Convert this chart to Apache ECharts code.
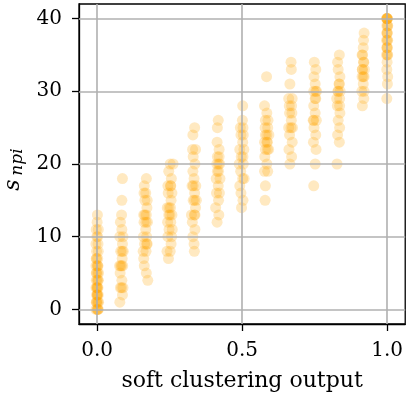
<!DOCTYPE html>
<html>
<head>
<meta charset="utf-8">
<script src="https://cdn.jsdelivr.net/npm/echarts@6/dist/echarts.min.js"></script>
<style>html,body{margin:0;padding:0;background:#fff}#c{width:406px;height:399px}</style>
</head>
<body>
<div id="c"></div>
<script>
// column positions (soft clustering output)
var colX = [0, 0.0833, 0.1667, 0.25, 0.3333, 0.4167, 0.5, 0.5833, 0.6667, 0.75, 0.8333, 0.9167, 1.0];
// s_npi values per column
var col0 = [0,0,0,0,1,1,1,1,2,2,2,3,3,3,4,4,4,5,5,5,6,6,6,7,7,8,8,9,9,10,10,11,11,12,13, 0,1,2,3,4,5,6,7,2,3];
var col1 = [1,2,3,3,4,5,6,6,6,7,8,8,9,10,10,11,12,13,15,18, 6,3,8];
var col2 = [4,5,6,7,8,8,9,9,10,10,11,12,12,13,13,14,15,15,16,17,18, 12,13,16,9];
var col3 = [7,8,8,9,10,10,11,11,12,12,13,13,14,14,15,16,16,17,17,18,19,20,20, 13,14,17];
var col4 = [8,9,10,11,12,13,13,14,15,15,16,17,17,18,19,20,21,22,22,24,25, 15,17,13];
var col5 = [12,13,14,15,16,16,17,18,18,19,20,20,21,22,23,25,26, 19,20,21];
var col6 = [14,15,16,17,18,18,19,20,20,21,22,22,23,24,25,25,26,28, 21,24];
var col7 = [15,17,19,19,20,21,22,22,23,23,24,24,25,25,26,26,27,28,32, 23,24,22];
var col8 = [20,21,22,23,24,25,25,26,27,28,29,29,31,33,34, 27,25,28];
var col9 = [17,20,22,23,24,25,26,26,27,28,29,30,30,31,32,33,34, 29,26,30];
var col10 = [20,23,24,25,26,27,28,29,29,30,30,31,32,33,34,35, 28,30,31];
var col11 = [28,29,30,30,31,32,32,33,33,34,35,36,37,38, 32,33,34,35];
var col12 = [29,31,32,33,34,35,35,36,36,37,37,38,38,39,39,40,40,40,40, 37,38,39,40,40,36,35];
// horizontal jitter
var dx0 = [0,.004,-.004,.002,.003,-.003,0,.005,-.002,.004,0,.003,-.004,.001,.004,-.003,0,.002,-.002,.005,-.004,.003,0,.002,-.003,.004,-.002,.003,-.004,.002,-.001,.004,-.003,0,.001, .002,-.002,.001,-.001,.003,-.003,.002,-.002,.001,0];
var dx1 = [-.005,.004,-.003,.006,.002,-.004,.005,-.006,.001,.003,-.002,.007,.004,-.005,.006,.002,-.003,.001,.002,.004, -.002,.001,.003];
var dx2 = [.008,.003,-.004,-.006,.002,-.008,.006,-.003,.004,-.007,.001,-.005,.007,.003,-.006,.005,-.002,.006,.001,-.004,.003, .002,-.002,-.005,.004];
var dx3 = [-.004,.002,-.009,.005,-.006,.007,-.002,.009,-.007,.004,-.003,.008,-.008,.003,.005,-.005,.008,-.006,.004,.006,-.003,.012,.002, .001,-.002,.003];
var dx4 = [.002,.001,-.003,.004,-.005,.002,-.008,.006,-.002,.009,.003,-.006,.007,.001,-.003,.004,-.002,-.004,.006,-.003,.003, .003,-.002,.004];
var dx5 = [-.003,.003,-.008,.002,-.005,.005,.001,-.006,.007,.002,-.004,.006,-.002,.004,-.003,-.002,.001, -.002,.002,.004];
var dx6 = [-.002,.003,-.004,-.008,.002,.007,-.005,.004,-.01,-.003,.006,-.008,.002,-.004,.003,-.006,.001,.002, .003,.004];
var dx7 = [-.004,-.003,-.006,.005,.002,-.005,.008,-.003,.004,-.006,.002,.009,-.004,.005,.006,-.003,.002,-.006,.001, .002,-.003,.004];
var dx8 = [-.002,.004,-.005,.006,-.003,.007,-.006,.003,.005,-.004,-.006,.006,-.002,.003,.002, -.003,.002,.004];
var dx9 = [-.003,.002,.005,-.004,.004,-.002,.006,-.005,.002,-.003,.004,.007,-.003,.002,-.002,.004,-.001, .002,-.003,.004];
var dx10 = [-.006,.002,-.004,.003,-.002,.004,-.005,.003,-.007,.005,-.003,.002,.004,-.002,-.004,.002, .003,-.002,.001];
var dx11 = [-.002,.003,-.004,.004,.001,-.003,.004,-.002,.005,.002,-.003,.001,.002,.004, .001,-.002,.003,-.001];
var dx12 = [-.001,.001,.002,-.001,0,.002,-.002,.001,-.001,.002,-.002,0,.001,-.001,.002,0,.001,-.001,0, .001,-.001,.002,-.002,.001,0,.001];
var xTicks = [0, 0.5, 1];
var yTicks = [0, 10, 20, 30, 40];

var cols = [col0,col1,col2,col3,col4,col5,col6,col7,col8,col9,col10,col11,col12];
var dxs = [dx0,dx1,dx2,dx3,dx4,dx5,dx6,dx7,dx8,dx9,dx10,dx11,dx12];
var pts = [];
cols.forEach(function (ys, k) {
  ys.forEach(function (y, i) { pts.push([colX[k] + (dxs[k][i] || 0), y]); });
});

var gridLines = xTicks.map(function (v) { return {xAxis: v}; })
  .concat(yTicks.map(function (v) { return {yAxis: v}; }));

var font = 'DejaVu Serif';
var chart = echarts.init(document.getElementById('c'), null, {renderer: 'canvas'});
chart.setOption({
  animation: false,
  grid: {left: 79, top: 4, width: 328.5, height: 320, show: true, borderColor: '#000', borderWidth: 1.3, backgroundColor: 'transparent'},
  xAxis: {
    type: 'value', min: -0.0625, max: 1.0625,
    axisLine: {show: true, onZero: false, lineStyle: {color: '#000', width: 1.3}},
    axisTick: {show: true, length: 7, customValues: xTicks, lineStyle: {color: '#000', width: 1.3}},
    axisLabel: {customValues: xTicks, margin: 17, color: '#000', fontFamily: font, fontSize: 20,
      formatter: function (v) { return Number(v).toFixed(1); }},
    splitLine: {show: false},
    name: 'soft clustering output', nameLocation: 'middle', nameGap: 46,
    nameTextStyle: {color: '#000', fontFamily: font, fontSize: 22}
  },
  yAxis: {
    type: 'value', min: -2, max: 42,
    axisLine: {show: true, onZero: false, lineStyle: {color: '#000', width: 1.3}},
    axisTick: {show: true, length: 7, customValues: yTicks, lineStyle: {color: '#000', width: 1.3}},
    axisLabel: {customValues: yTicks, margin: 17, color: '#000', fontFamily: font, fontSize: 20},
    splitLine: {show: false}
  },
  graphic: [
    {type: 'text', x: 13, y: 185, rotation: Math.PI / 2,
      style: {text: 's', font: 'italic 22px "DejaVu Serif"', fill: '#000', align: 'center', verticalAlign: 'middle'}},
    {type: 'text', x: 18, y: 162, rotation: Math.PI / 2,
      style: {text: 'npi', font: 'italic 17px "DejaVu Serif"', fill: '#000', align: 'center', verticalAlign: 'middle'}}
  ],
  series: [
    {type: 'scatter', data: pts, symbolSize: 11, z: 2,
      itemStyle: {color: 'rgba(255,165,0,0.3)', borderWidth: 0}},
    {type: 'scatter', data: [], z: 3, silent: true,
      markLine: {silent: true, symbol: 'none', label: {show: false},
        lineStyle: {color: '#b0b0b0', width: 1.6, type: 'solid'},
        emphasis: {disabled: true}, data: gridLines}}
  ]
});
</script>
</body>
</html>
